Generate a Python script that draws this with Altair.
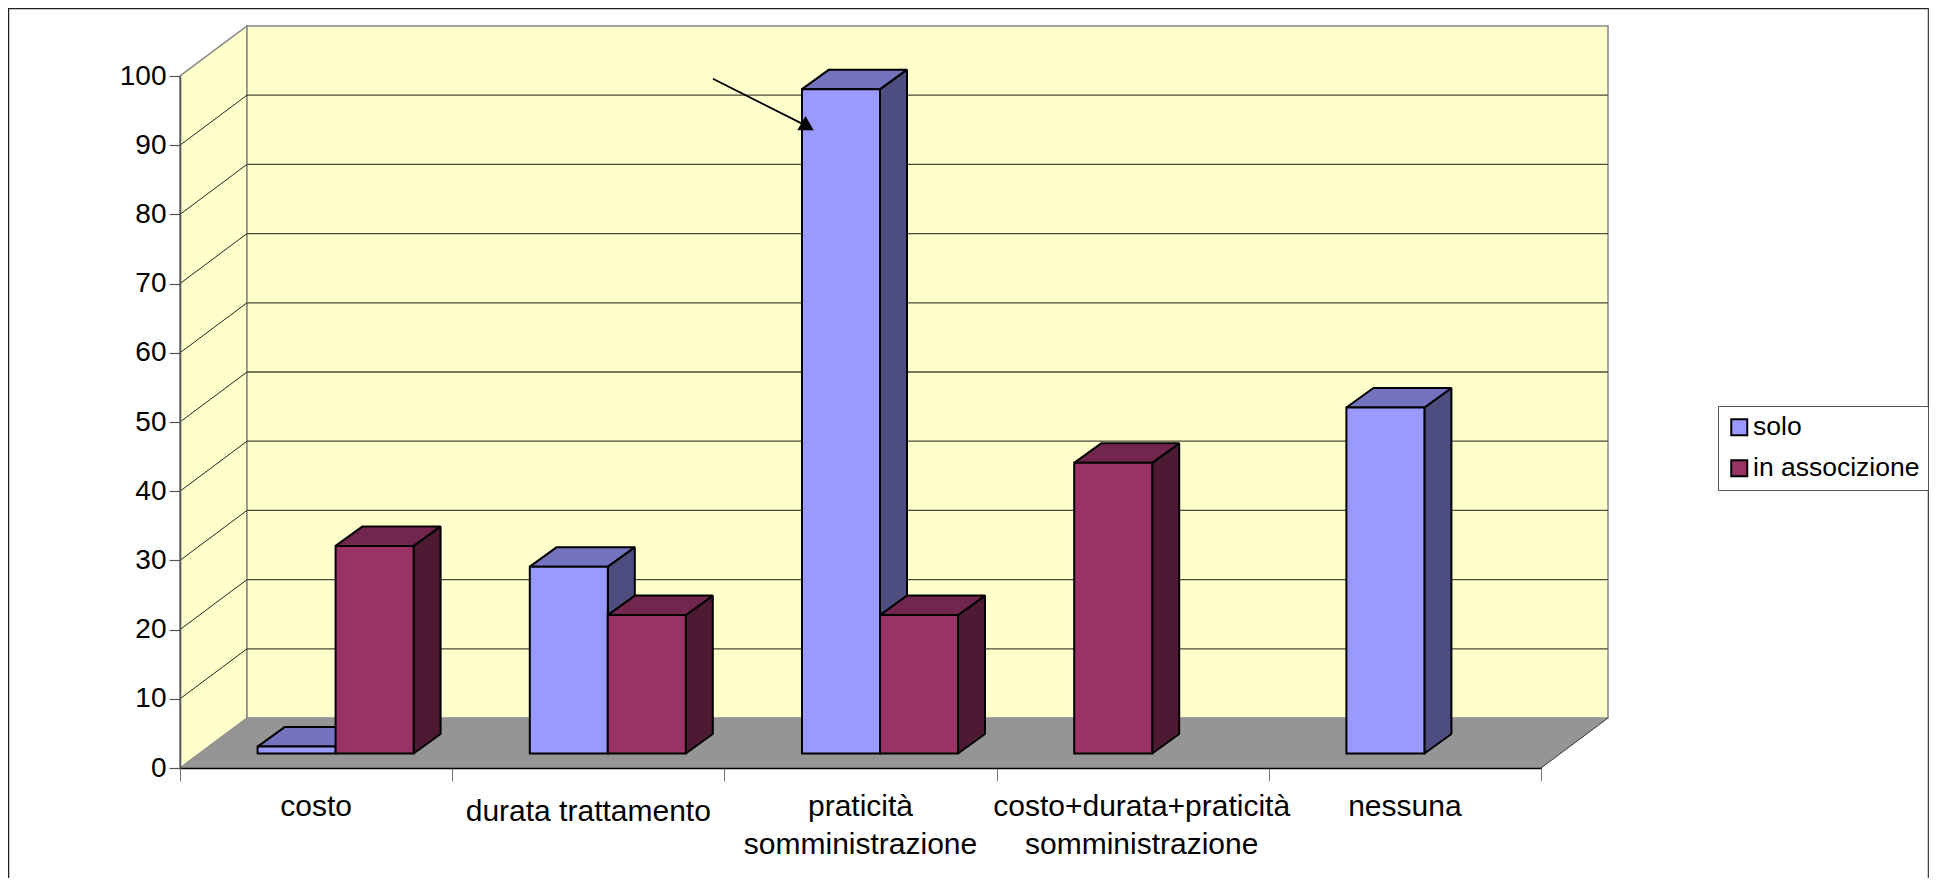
import altair as alt
import pandas as pd

categories = ["costo", "durata trattamento", "praticità\nsomministrazione",
              "costo+durata+praticità\nsomministrazione", "nessuna"]
series_names = ["solo", "in associzione"]
solo = [1, 27, 96, 0, 50]
associazione = [30, 20, 20, 42, 0]
y_ticks = list(range(0, 101, 10))
x_ticks = [0, 1, 2, 3, 4, 5]

FONT = "Liberation Sans"
W, H = 1361, 692
XS = alt.Scale(domain=[0, 5], nice=False, zero=False)
YS = alt.Scale(domain=[0, 100], nice=False, zero=False)

# projection of the fake 3D box, in scale units
WALL_DX, WALL_DY = 67 / 272.2, 50 / 6.92
BAR_OX, BAR_OY = 19.5 / 272.2, 14.5 / 6.92
BAR_DX, BAR_DY = 27 / 272.2, 19.5 / 6.92
BAR_W = 78 / 272.2

X = lambda f="x": alt.X(f + ":Q", scale=XS, title=None)
Y = lambda f="y": alt.Y(f + ":Q", scale=YS, title=None)

# box
left_wall = pd.DataFrame({"x": [0, WALL_DX], "y": [0, WALL_DY], "y2": [100, 100 + WALL_DY]})
floor = pd.DataFrame({"y": [0, WALL_DY], "x": [0, WALL_DX], "x2": [5, 5 + WALL_DX]})
wall = pd.DataFrame({"x": [WALL_DX], "x2": [5 + WALL_DX], "y": [WALL_DY], "y2": [100 + WALL_DY]})
grid_vals = [v for v in y_ticks if 0 < v < 100]
back_grid = pd.DataFrame({"x": [WALL_DX], "x2": [5 + WALL_DX]}).merge(
    pd.DataFrame({"v": grid_vals}), how="cross")
back_grid["y"] = back_grid["v"] + WALL_DY
diag = pd.DataFrame([
    {"id": v, "x": a, "y": v + b} for v in grid_vals for a, b in [(0, 0), (WALL_DX, WALL_DY)]
])
right_edge = pd.DataFrame({"x": [5, 5 + WALL_DX], "y": [0, WALL_DY]})

left_wall_l = alt.Chart(left_wall).mark_area(orient="vertical", fill="#FFFFCC", stroke="#868686", strokeWidth=1.5).encode(
    x=X(), y=Y(), y2="y2:Q")
wall_l = alt.Chart(wall).mark_rect(fill="#FFFFCC", stroke="#868686", strokeWidth=1.5).encode(
    x=X(), x2="x2:Q", y=Y(), y2="y2:Q")
floor_l = alt.Chart(floor).mark_area(orient="horizontal", fill="#959595").encode(
    x=X(), x2="x2:Q", y=Y())
grid_l = alt.Chart(back_grid).mark_rule(color="#4a4a3a", strokeWidth=1.3).encode(
    x=X(), x2="x2:Q", y=Y())
diag_l = alt.Chart(diag).mark_line(color="#222222", strokeWidth=1).encode(
    x=X(), y=Y(), detail="id:N")
right_edge_l = alt.Chart(right_edge).mark_line(color="#333333", strokeWidth=1).encode(x=X(), y=Y())


def bar_layers(values, idx, side_c, top_c):
    side, top, front = [], [], []
    name = series_names[idx]
    for i, v in enumerate(values):
        if v <= 0:
            continue
        centre = i + 0.5 + BAR_OX
        # a lone bar of either series sits in the left slot
        x0 = centre - BAR_W if (idx == 0 or solo[i] == 0) else centre
        x1 = x0 + BAR_W
        y0 = BAR_OY
        yt = v + BAR_OY
        side += [{"id": i, "x": x1, "y": y0, "y2": yt},
                 {"id": i, "x": x1 + BAR_DX, "y": y0 + BAR_DY, "y2": yt + BAR_DY}]
        top += [{"id": i, "y": yt, "x": x0, "x2": x1},
                {"id": i, "y": yt + BAR_DY, "x": x0 + BAR_DX, "x2": x1 + BAR_DX}]
        front.append({"series": name, "x": x0, "x2": x1, "y": y0, "y2": yt})
    sw = 2
    s = alt.Chart(pd.DataFrame(side)).mark_area(orient="vertical", fill=side_c, stroke="black", strokeWidth=sw,
                                                strokeJoin="bevel").encode(
        x=X(), y=Y(), y2="y2:Q", detail="id:N")
    t = alt.Chart(pd.DataFrame(top)).mark_area(orient="horizontal", fill=top_c, stroke="black", strokeWidth=sw,
                                               strokeJoin="bevel").encode(
        x=X(), x2="x2:Q", y=Y(), detail="id:N")
    f = alt.Chart(pd.DataFrame(front)).mark_rect(stroke="black", strokeWidth=sw).encode(
        x=X(), x2="x2:Q", y=Y(), y2="y2:Q",
        fill=alt.Fill("series:N", scale=alt.Scale(domain=series_names, range=["#9999FF", "#993366"]),
                      sort=series_names,
                      legend=alt.Legend(title=None, orient="none", legendX=1538, legendY=330,
                                        fillColor="white", strokeColor="#555555", padding=8,
                                        symbolType="square", symbolSize=256, symbolStrokeColor="black",
                                        symbolStrokeWidth=2, labelFont=FONT, labelFontSize=26.5,
                                        labelLimit=300, labelColor="black", labelOffset=0.5,
                                        rowPadding=14)))
    return [s, t, f]


# axes
axes = alt.Chart(pd.DataFrame({"x": [0], "y": [0]})).mark_point(opacity=0).encode(
    x=alt.X("x:Q", scale=XS, axis=alt.Axis(values=x_ticks, labels=False, title=None, grid=False,
                                           tickSize=13, tickColor="#777777", tickWidth=1,
                                           domainColor="black", domainWidth=1.3, zindex=1)),
    y=alt.Y("y:Q", scale=YS, axis=alt.Axis(values=y_ticks, title=None, grid=False, tickSize=11,
                                           tickColor="#555555", tickWidth=1.2, domainColor="#555555",
                                           domainWidth=1.6, labelFont=FONT, labelFontSize=28,
                                           labelColor="black", labelPadding=3, zindex=1)),
)

cat_layers = []
LABEL_NUDGE = {1: (0, 5), 3: (9, 0)}
for i, lab in enumerate(categories):
    dx, dy = LABEL_NUDGE.get(i, (0, 0))
    cat_layers.append(
        alt.Chart(pd.DataFrame({"x": [i + 0.5], "label": [lab]})).mark_text(
            font=FONT, fontSize=30, color="black", align="center", baseline="top",
            lineBreak="\n", lineHeight=38, dx=dx, dy=dy).encode(
            x=X(), y=alt.value(H + 24), text="label:N"))

# arrow annotation
arrow_line = pd.DataFrame({"x": [1.958, 2.296], "y": [99.6, 92.9]})
arrow_head = pd.DataFrame({"x": [2.298], "y": [93.2]})
arrow_l = alt.Chart(arrow_line).mark_line(color="black", strokeWidth=1.8).encode(x=X(), y=Y())
head_l = alt.Chart(arrow_head).mark_point(shape="triangle-up", filled=True, color="black", size=270, opacity=1).encode(
    x=X(), y=Y())

# frame of the whole picture (top, left, right sides)
PL, PT, PR, PB = 172, 68, 388, 110
frame = [
    alt.Chart(pd.DataFrame({"a": [0]})).mark_rule(color="#222222", strokeWidth=1.5).encode(
        x=alt.value(-PL), x2=alt.value(W + PR), y=alt.value(-PT + 0.5)),
    alt.Chart(pd.DataFrame({"a": [0]})).mark_rule(color="#222222", strokeWidth=1.5).encode(
        x=alt.value(-PL + 0.5), y=alt.value(-PT), y2=alt.value(H + PB)),
    alt.Chart(pd.DataFrame({"a": [0]})).mark_rule(color="#444444", strokeWidth=1.5).encode(
        x=alt.value(W + PR - 0.5), y=alt.value(-PT), y2=alt.value(H + PB)),
]

layers = [axes, left_wall_l, wall_l, floor_l, grid_l, diag_l, right_edge_l]
layers += bar_layers(solo, 0, "#4D4D80", "#7373BF")
layers += bar_layers(associazione, 1, "#4D1933", "#73264D")
layers += cat_layers + [arrow_l, head_l] + frame

chart = alt.layer(*layers).properties(
    width=W, height=H,
    autosize=alt.AutoSizeParams(type="none"),
    padding={"left": PL, "top": PT, "right": PR, "bottom": PB},
    background="white",
).configure_view(strokeWidth=0)

chart.save("out.html", embed_options={"renderer": "svg", "actions": False})
